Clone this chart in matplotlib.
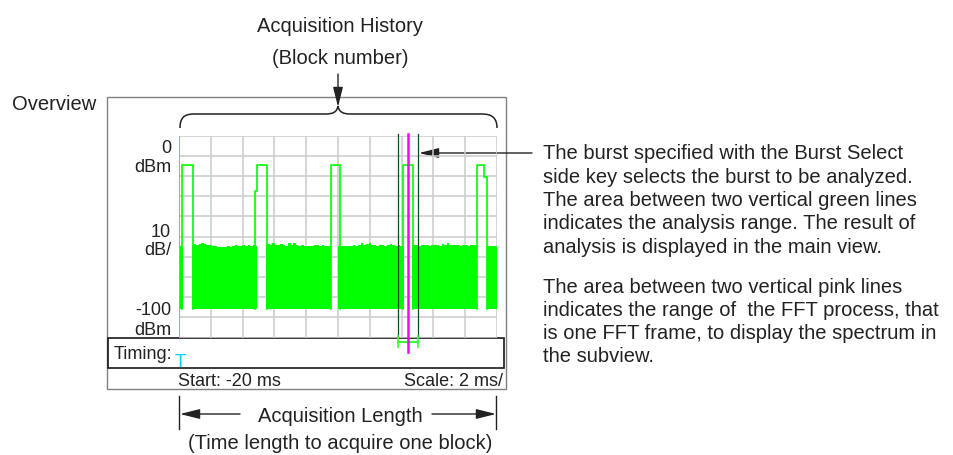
import numpy as np
import matplotlib
matplotlib.use("Agg")
import matplotlib.pyplot as plt
from matplotlib.patches import Rectangle, PathPatch
from matplotlib.path import Path

plt.rcParams['font.family'] = ['Liberation Sans', 'DejaVu Sans']

# overview trace, in screen divisions (x: 0-10, y: 0-10)
floor_level = 1.4
burst_level = 8.55
burst_start = [0.10, 2.44, 4.77, 7.05, 9.36]
burst_end = [0.45, 2.76, 5.06, 7.37, 9.68]
# small steps seen on some burst edges (None = clean edge)
burst_left_step = [None, 7.24, None, None, None]
burst_right_step = [None, None, None, None, 7.95]

noise_start = [0.03, 0.42, 2.73, 5.01, 7.32, 9.68]
noise_end = [0.14, 2.44, 4.78, 7.08, 9.36, 10.0]
noise_top = [
    [4.55, 4.5],
    [4.6, 4.62, 4.6, 4.62, 4.66, 4.62, 4.6, 4.57, 4.55, 4.52, 4.5, 4.48, 4.5,
     4.47, 4.52, 4.5, 4.55, 4.6, 4.55, 4.52, 4.57, 4.55, 4.6, 4.55, 4.58, 4.55],
    [4.58, 4.62, 4.58, 4.66, 4.6, 4.57, 4.62, 4.58, 4.55, 4.67, 4.6, 4.66, 4.57,
     4.55, 4.58, 4.55, 4.52, 4.52, 4.55, 4.6, 4.58, 4.55, 4.57, 4.55, 4.53, 4.55],
    [4.52, 4.52, 4.55, 4.55, 4.53, 4.55, 4.58, 4.55, 4.6, 4.67, 4.6, 4.62, 4.7,
     4.6, 4.58, 4.55, 4.6, 4.57, 4.55, 4.58, 4.65, 4.6, 4.55, 4.57, 4.55, 4.52],
    [4.57, 4.6, 4.57, 4.55, 4.6, 4.57, 4.58, 4.55, 4.6, 4.58, 4.6, 4.55, 4.62,
     4.6, 4.7, 4.6, 4.58, 4.57, 4.6, 4.55, 4.57, 4.6, 4.55, 4.57, 4.6, 4.58],
    [4.55, 4.55, 4.55, 4.55],
]

# analysis range (green) and FFT frame (pink) markers
analysis_range = [6.88, 7.53]
fft_pos = 7.21

y_labels = [("0", "dBm"), ("10", "dB/"), ("-100", "dBm")]
start_label = "Start: -20 ms"
scale_label = "Scale: 2 ms/"

note_1 = ["The burst specified with the Burst Select",
          "side key selects the burst to be analyzed.",
          "The area between two vertical green lines",
          "indicates the analysis range. The result of",
          "analysis is displayed in the main view."]
note_2 = ["The area between two vertical pink lines",
          "indicates the range of  the FFT process, that",
          "is one FFT frame, to display the spectrum in",
          "the subview."]

W, H = 954, 456
fig = plt.figure(figsize=(W / 100, H / 100), dpi=100)

# overlay axes in pixel coordinates for the callouts
ax0 = fig.add_axes([0, 0, 1, 1])
ax0.set_xlim(0, W)
ax0.set_ylim(H, 0)
ax0.axis('off')

# grid area of the overview screen
gx0, gx1, gy0, gy1 = 179, 497, 136.5, 338.5
ax = fig.add_axes([gx0 / W, 1 - gy1 / H, (gx1 - gx0) / W, (gy1 - gy0) / H])
ax.set_xlim(0, 10)
ax.set_ylim(0, 10)
ax.axis('off')
ax.patch.set_alpha(0)

txt = '#222222'
main_fs = 14.5
scr_fs = 13

# screen frame and timing box
ax0.add_patch(Rectangle((106.7, 98.3), 506 - 106.7, 390 - 98.3, fill=False,
                        edgecolor='#808080', lw=1.0))
ax0.add_patch(Rectangle((108, 339.3), 504 - 108, 30, fill=False,
                        edgecolor='#1a1a1a', lw=1.2))

# grid
for i in range(11):
    ax.axvline(i, color='#cccccc', lw=1.1, zorder=1)
    ax.axhline(i, color='#cccccc', lw=1.1, zorder=1)
ax.axvline(0, color='#00e0ff', lw=1.2, zorder=3)

green = '#00ff00'
for s, e, top in zip(noise_start, noise_end, noise_top):
    xs = np.linspace(s, e, len(top))
    ax.fill_between(xs, floor_level, top, step='mid', color=green, lw=0, zorder=2)

for s, e, ls, rs in zip(burst_start, burst_end, burst_left_step, burst_right_step):
    xs = [s, s]
    ys = [floor_level, burst_level]
    if ls is not None:
        xs = [s - 0.04, s - 0.04, s, s]
        ys = [floor_level, ls, ls, burst_level]
    if rs is not None:
        xs += [e - 0.08, e - 0.08, e, e]
        ys += [burst_level, rs, rs, floor_level]
    else:
        xs += [e, e]
        ys += [burst_level, floor_level]
    ax.plot(xs, ys, color=green, lw=1.2, zorder=3)

# markers hanging below the grid
for xv in analysis_range:
    ax.plot([xv, xv], [0.07, 10.05], color='#0b4d16', lw=0.9, zorder=4, clip_on=False)
    ax.plot([xv, xv], [0.07, -0.47], color='#33ff33', lw=1.2, zorder=4, clip_on=False)
ax.plot(analysis_range, [-0.22, -0.22], color='#33ff33', lw=1.5, zorder=4, clip_on=False)
ax.plot([fft_pos, fft_pos], [-0.72, 10.05], color='#ff00ff', lw=1.8, zorder=5, clip_on=False)

# screen labels
for (a, b), (ya, yb) in zip(y_labels, [(152.7, 171.7), (236.7, 255), (315, 335)]):
    ax0.text(171, ya, a, ha='right', va='baseline', fontsize=scr_fs, color=txt)
    ax0.text(171, yb, b, ha='right', va='baseline', fontsize=scr_fs, color=txt)
ax0.text(114, 359.3, "Timing:", ha='left', va='baseline', fontsize=scr_fs, color=txt)
ax0.text(180.5, 367, "T", ha='center', va='baseline', fontsize=13.5,
         color='#00ccff')
ax0.text(178, 386, start_label, ha='left', va='baseline', fontsize=scr_fs, color=txt)
ax0.text(503, 386, scale_label, ha='right', va='baseline', fontsize=scr_fs, color=txt)

arrow_kw = dict(arrowstyle='-|>,head_length=1.2,head_width=0.3', color=txt,
                lw=1.0, shrinkA=0, shrinkB=0, mutation_scale=10)

# callouts
ax0.text(12, 110, "Overview", ha='left', va='baseline', fontsize=main_fs, color=txt)
ax0.text(340, 31.7, "Acquisition History", ha='center', va='baseline',
         fontsize=main_fs, color=txt)
ax0.text(340, 64.5, "(Block number)", ha='center', va='baseline',
         fontsize=main_fs, color=txt)
ax0.annotate('', xy=(338, 108), xytext=(338, 75), arrowprops=arrow_kw)

# curly brace over the grid
verts = [(180, 129), (180, 119), (184, 115), (194, 115), (326, 115),
         (333, 115), (337, 113), (338, 107), (339, 113), (343, 115), (350, 115),
         (482, 115), (492, 115), (497, 119), (497, 129)]
codes = [Path.MOVETO, Path.CURVE4, Path.CURVE4, Path.CURVE4, Path.LINETO,
         Path.CURVE4, Path.CURVE4, Path.CURVE4, Path.CURVE4, Path.CURVE4, Path.CURVE4,
         Path.LINETO, Path.CURVE4, Path.CURVE4, Path.CURVE4]
ax0.add_patch(PathPatch(Path(verts, codes), fill=False, edgecolor=txt, lw=1.1))

ax0.annotate('', xy=(419, 154), xytext=(532, 154), arrowprops=arrow_kw)

for i, line in enumerate(note_1):
    ax0.text(543, 159.5 + i * 23.3, line, ha='left', va='baseline',
             fontsize=main_fs, color=txt)
for i, line in enumerate(note_2):
    ax0.text(543, 292.6 + i * 23.3, line, ha='left', va='baseline',
             fontsize=main_fs, color=txt)

# acquisition length dimension
for xv in [179.3, 496.5]:
    ax0.plot([xv, xv], [396.7, 430], color=txt, lw=1.0)
ax0.annotate('', xy=(180, 415), xytext=(240, 415), arrowprops=arrow_kw)
ax0.annotate('', xy=(496, 415), xytext=(432, 415), arrowprops=arrow_kw)
ax0.text(340, 421.7, "Acquisition Length", ha='center', va='baseline',
         fontsize=main_fs, color=txt)
ax0.text(340, 449, "(Time length to acquire one block)", ha='center',
         va='baseline', fontsize=main_fs, color=txt)

fig.savefig("out.png", dpi=100)
